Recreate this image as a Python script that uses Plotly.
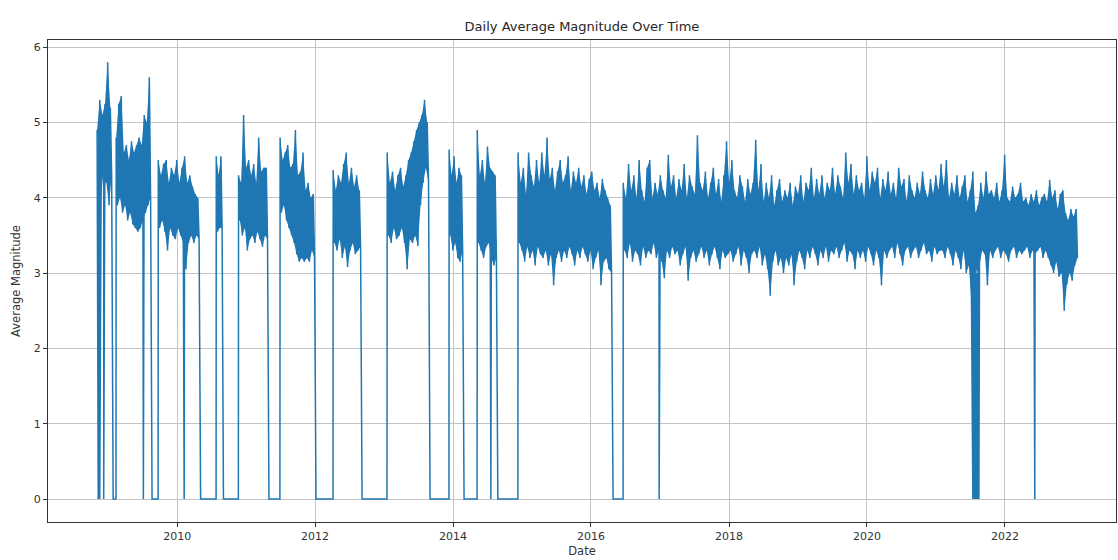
import plotly.graph_objects as go
import pandas as pd

# ---- data (envelope of the daily series, ~2-week resolution) ----
seg_start = ["2008-11-03", "2009-02-12", "2009-09-23", "2010-07-27",
             "2010-11-22", "2011-06-30", "2012-04-06", "2013-01-17", "2013-12-11", "2014-05-09",
             "2014-12-11", "2016-06-20"]
seg_end = ["2009-01-26", "2009-08-20", "2010-05-04", "2010-09-02",
           "2011-05-01", "2012-01-05", "2012-09-05", "2013-08-31", "2014-02-27", "2014-08-25",
           "2016-04-26", "2023-01-27"]

seg_hi = [
    [4.9, 5.3, 5.1, 5.25, 5.8, 5.2],
    [4.8, 5.25, 5.35, 4.6, 4.7, 4.5, 4.75, 4.6, 4.7, 4.8, 4.7, 5.1, 5.0, 5.6],
    [4.5, 4.3, 4.45, 4.5, 4.2, 4.4, 4.3, 4.5, 4.2, 4.4, 4.55, 4.2, 4.3, 4.15, 4.05, 4.0],
    [4.55, 4.3, 4.55],
    [4.3, 4.2, 5.1, 4.4, 4.5, 4.3, 4.45, 4.2, 4.8, 4.35, 4.4, 4.4],
    [4.8, 4.5, 4.6, 4.7, 4.4, 4.45, 4.9, 4.3, 4.35, 4.6, 4.1, 4.2, 4.0, 4.05],
    [4.37, 4.1, 4.3, 4.2, 4.45, 4.6, 4.2, 4.4, 4.15, 4.3, 4.1],
    [4.6, 4.2, 4.35, 4.1, 4.3, 4.4, 4.15, 4.3, 4.5, 4.6, 4.75, 4.9, 5.0, 5.1, 5.3, 5.0],
    [4.64, 4.3, 4.55, 4.2, 4.4, 4.3],
    [4.9, 4.3, 4.5, 4.2, 4.68, 4.4, 4.35, 4.3],
    [4.6, 4.2, 4.4, 4.05, 4.6, 4.3, 4.15, 4.5, 4.2, 4.6, 4.3, 4.8, 4.25, 4.4, 4.1, 4.35, 4.5, 4.2,
     4.3, 4.55, 4.1, 4.35, 4.2, 4.4, 4.15, 4.3, 4.05, 4.25, 4.35, 4.1, 4.2, 4.0, 4.25, 4.1, 4.0, 3.9],
    [4.2, 4.0, 4.45, 4.1, 4.3, 4.0, 4.5, 4.1, 3.95, 4.4,
     4.5, 4.0, 4.2, 4.05, 4.3, 4.1, 4.0, 4.57, 4.15, 4.3,
     4.0, 4.25, 4.1, 4.45, 4.0, 4.3, 4.15, 4.05, 4.83, 4.2,
     4.1, 4.35, 4.0, 4.2, 4.4, 4.05, 4.25, 3.95, 4.3, 4.75,
     4.2, 4.5, 4.1, 4.0, 4.3, 4.15, 3.95, 4.25, 4.05, 4.2,
     4.77, 4.1, 4.45, 3.95, 4.2, 4.0, 4.3, 3.9, 4.1, 4.25,
     3.95, 4.1, 4.0, 4.2, 3.9, 4.15, 4.05, 4.3, 3.95, 4.2,
     4.1, 4.4, 4.0, 4.25, 4.05, 4.3, 4.0, 4.2, 4.1, 4.4,
     4.05, 4.3, 4.15, 4.0, 4.6, 4.2, 4.45, 4.05, 4.3, 4.1,
     4.2, 4.0, 4.55, 4.1, 4.35, 4.2, 4.4, 4.0, 4.25, 4.1,
     4.35, 4.05, 4.2, 4.0, 4.4, 4.15, 4.25, 3.95, 4.3, 4.1,
     4.0, 4.2, 4.05, 4.35, 4.1, 4.0, 4.25, 4.05, 4.3, 4.1,
     4.45, 4.15, 4.5, 4.0, 4.2, 4.05, 4.3, 4.0, 4.15, 4.3,
     3.95, 4.1, 4.35, 3.8, 3.9, 4.2, 4.0, 4.35, 4.05, 4.1,
     4.0, 4.2, 3.95, 4.1, 4.57, 4.0, 3.95, 4.15, 4.0, 4.05,
     4.2, 3.95, 4.0, 3.9, 4.05, 3.95, 4.1, 3.9, 4.0, 4.05,
     3.95, 4.24, 4.0, 4.1, 3.85, 4.05, 4.1, 3.8, 3.7, 3.85, 3.75, 3.85],
]

seg_lo = [
    [3.45, 4.0, 4.4, 4.2, 3.9, 4.3],
    [3.9, 4.0, 3.8, 3.9, 3.7, 3.8, 3.65, 3.6, 3.55, 3.6, 3.7, 3.8, 3.9, 4.0],
    [3.6, 3.7, 3.55, 3.3, 3.6, 3.5, 3.45, 3.6, 3.5, 3.4, 3.05, 3.4, 3.5, 3.4, 3.5, 3.45],
    [3.55, 3.6, 3.6],
    [3.7, 3.5, 3.6, 3.3, 3.45, 3.5, 3.4, 3.55, 3.45, 3.35, 3.5, 3.45],
    [3.8, 3.9, 3.7, 3.6, 3.5, 3.4, 3.25, 3.15, 3.2, 3.15, 3.2, 3.15, 3.3, 3.2],
    [3.4, 3.3, 3.45, 3.2, 3.35, 3.08, 3.3, 3.4, 3.25, 3.3, 3.35],
    [3.5, 3.4, 3.6, 3.45, 3.5, 3.6, 3.4, 3.05, 3.45, 3.4, 3.5, 3.36, 3.9, 4.2, 4.4, 4.2],
    [3.5, 3.3, 3.4, 3.2, 3.15, 3.3],
    [3.4, 3.3, 3.2, 3.35, 3.4, 3.2, 3.1, 3.2],
    [3.4, 3.3, 3.15, 3.35, 3.2, 3.3, 3.1, 3.35, 3.25, 3.2, 3.3, 3.1, 3.25, 2.84, 3.2, 3.3, 3.15, 3.3,
     3.2, 3.35, 3.25, 3.1, 3.3, 3.2, 3.35, 3.25, 3.15, 3.3, 3.05, 3.2, 3.3, 2.84, 3.15, 3.2, 3.05, 3.0],
    [3.3, 3.2, 3.4, 3.15, 3.3, 3.25, 3.1, 3.35, 3.2, 3.3,
     3.25, 3.4, 3.2, 3.3, 3.15, 2.93, 3.3, 3.2, 3.35, 3.25,
     3.3, 3.1, 3.25, 3.35, 2.9, 3.2, 3.3, 3.15, 3.25, 3.35,
     3.2, 3.3, 3.1, 3.25, 3.35, 3.2, 3.05, 3.3, 3.2, 3.25,
     3.3, 3.15, 3.25, 3.35, 3.1, 3.3, 3.2, 3.0, 3.25, 3.3,
     3.2, 3.35, 3.1, 3.25, 3.05, 2.7, 3.15, 3.3, 3.1, 3.2,
     3.0, 3.2, 3.1, 3.25, 2.84, 3.15, 3.3, 3.2, 3.05, 3.3,
     3.2, 3.35, 3.25, 3.1, 3.3, 3.2, 3.35, 3.15, 3.3, 3.25,
     3.35, 3.2, 3.3, 3.4, 3.15, 3.3, 3.25, 3.05, 3.3, 3.2,
     3.3, 3.15, 3.35, 3.25, 3.1, 3.3, 3.2, 2.84, 3.3, 3.2,
     3.3, 3.35, 3.2, 3.4, 3.25, 3.1, 3.3, 3.35, 3.2, 3.3,
     3.35, 3.2, 3.3, 3.4, 3.25, 3.3, 3.15, 3.35, 3.25, 3.3,
     3.3, 3.2, 3.35, 3.25, 3.1, 3.3, 3.2, 3.05, 3.3, 3.0,
     3.1, 2.6, 3.2, 3.0, 3.1, 3.3, 3.25, 2.84, 3.3, 3.2,
     3.3, 3.35, 3.2, 3.3, 3.25, 3.15, 3.3, 3.35, 3.2, 3.3,
     3.25, 3.3, 3.35, 3.2, 3.3, 3.25, 3.3, 3.35, 3.2, 3.3,
     3.2, 3.1, 3.0, 3.15, 2.95, 3.0, 2.5, 2.85, 3.0, 2.9, 3.1, 3.2],
]

# isolated days whose daily average is 0 inside data periods
zero_days = ["2008-11-09", "2008-11-17", "2008-12-08", "2009-07-06", "2010-02-07",
             "2014-07-20", "2016-12-27",
             "2021-07-15", "2021-07-19", "2021-07-23", "2021-07-27", "2021-07-31",
             "2021-08-04", "2021-08-08", "2021-08-12", "2021-08-16", "2022-06-08"]

x_tick_vals = ["2010-01-01", "2012-01-01", "2014-01-01", "2016-01-01",
               "2018-01-01", "2020-01-01", "2022-01-01"]
x_tick_text = ["2010", "2012", "2014", "2016", "2018", "2020", "2022"]
y_tick_vals = [0, 1, 2, 3, 4, 5, 6]

LINE_COLOR = "#1f77b4"

# ---- build the daily-like series ----
pts = []
band_x, band_y = [], []
nseg = len(seg_start)
one_day = pd.Timedelta(days=1)
for i in range(nseg):
    s = pd.Timestamp(seg_start[i])
    e = pd.Timestamp(seg_end[i])
    hi, lo = seg_hi[i], seg_lo[i]
    n = min(len(hi), len(lo))
    step = (e - s) / n
    if i > 0:
        pts.append((s - one_day, 0.0))
    top_x, top_y, bot_x, bot_y = [], [], [], []
    for k in range(n):
        pts.append((s + step * k, hi[k]))
        pts.append((s + step * (k + 0.5), lo[k]))
        top_x.append(s + step * k)
        top_y.append(hi[k])
        bot_x.append(s + step * (k + 0.5))
        bot_y.append(lo[k])
    if i < nseg - 1:
        pts.append((e + one_day, 0.0))
    band_x += top_x + bot_x[::-1] + [None]
    band_y += top_y + bot_y[::-1] + [None]
for d in zero_days:
    pts.append((pd.Timestamp(d), 0.0))
pts.sort(key=lambda p: p[0])

xs = [p[0] for p in pts]
ys = [p[1] for p in pts]

fig = go.Figure()
# dense body of the daily series (the area swept by the day-to-day oscillation)
fig.add_trace(go.Scatter(x=band_x, y=band_y, mode="none", fill="toself",
                         fillcolor=LINE_COLOR, showlegend=False, hoverinfo="skip"))
fig.add_trace(go.Scatter(x=xs, y=ys, mode="lines",
                         line=dict(color=LINE_COLOR, width=1.5),
                         showlegend=False, hoverinfo="skip"))

axis_common = dict(showline=True, mirror=True, linecolor="#333333", linewidth=1,
                   ticks="outside", ticklen=4, tickcolor="#333333",
                   showgrid=True, gridcolor="#c4c4c4", gridwidth=0.8, zeroline=False,
                   tickfont=dict(family="DejaVu Sans", size=11, color="#333333"))

fig.update_layout(
    width=1118, height=560,
    margin=dict(l=48, r=2, t=40, b=38),
    paper_bgcolor="white", plot_bgcolor="white",
    title=dict(text="Daily Average Magnitude Over Time", x=0.5, xref="paper",
               y=0.952, yref="container", yanchor="middle",
               font=dict(family="DejaVu Sans", size=13, color="#262626")),
    xaxis=dict(range=["2008-02-17", "2023-08-12"], tickvals=x_tick_vals, ticktext=x_tick_text,
               title=dict(text="Date", standoff=4,
                          font=dict(family="DejaVu Sans", size=11.5, color="#333333")),
               **axis_common),
    yaxis=dict(range=[-0.305, 6.095], tickvals=y_tick_vals,
               title=dict(text="Average Magnitude", standoff=10,
                          font=dict(family="DejaVu Sans", size=11.5, color="#333333")),
               **axis_common),
)

fig.write_html("out.html", config={"displayModeBar": False},
               post_script="document.body.style.margin='0';document.body.style.overflow='hidden';")
